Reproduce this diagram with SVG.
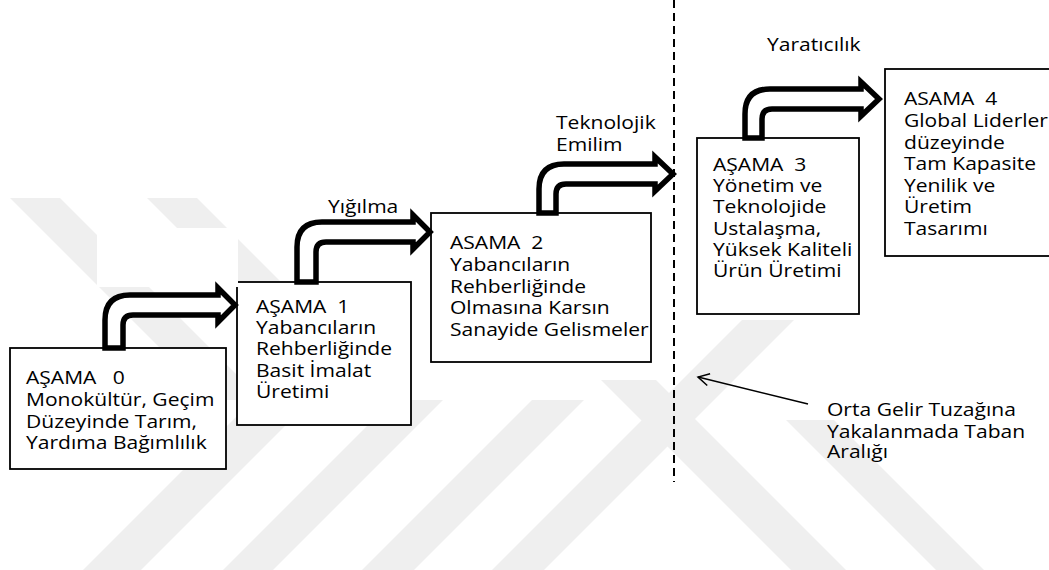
<svg xmlns="http://www.w3.org/2000/svg" width="1049" height="570" viewBox="0 0 1049 570">
<style>
.box{fill:#fff;stroke:#000;stroke-width:1.8}
.t{font-family:"Open Sans","Noto Sans",sans-serif;font-size:18px;fill:#000;white-space:pre}
.arr{fill:#fff;stroke:#000;stroke-width:5.5;stroke-linejoin:miter}
.wm{fill:#efefef}
.dash{stroke:#000;stroke-width:2;stroke-dasharray:8 5;fill:none}
.thin{stroke:#000;stroke-width:1.5;fill:none}
</style>
<defs>
<marker id="open" markerWidth="16" markerHeight="16" refX="13" refY="8" orient="auto" markerUnits="userSpaceOnUse">
<path d="M2 2 L13 8 L2 14" fill="none" stroke="#000" stroke-width="1.5"/>
</marker>
<clipPath id="c0"><rect x="97" y="228" width="141" height="59"/></clipPath>
</defs>
<rect width="1049" height="570" fill="#fff"/>
<g id="watermark">
<polygon class="wm" points="10,198 60,198 262,400 212,400"/>
<polygon class="wm" points="147,198 197,198 399,400 349,400"/>
<polygon class="wm" points="253,400 311,400 141,570 83,570"/>
<polygon class="wm" points="393,400 443,400 273,570 223,570"/>
<polygon class="wm" points="532,400 584,400 414,570 362,570"/>
<polygon class="wm" points="742,320 794,320 544,570 492,570"/>
<polygon class="wm" points="601,380 656,380 846,570 791,570"/>
<polygon class="wm" points="786,420 834,420 984,570 936,570"/>
</g>
<g id="divider"><line class="dash" x1="674" y1="0" x2="674" y2="482"/></g>
<g id="node0">
<rect class="box" x="10" y="348" width="216" height="121"/>
<text class="t" transform="translate(26 0) scale(1.17 1)"><tspan x="0" y="384">AŞAMA   0</tspan><tspan x="0" y="406">Monokültür, Geçim</tspan><tspan x="0" y="428">Düzeyinde Tarım,</tspan><tspan x="0" y="449">Yardıma Bağımlılık</tspan></text>
</g>
<g id="node1">
<rect class="box" x="237" y="282" width="174" height="143"/>
<text class="t" transform="translate(256 0) scale(1.17 1)"><tspan x="0" y="313">AŞAMA  1</tspan><tspan x="0" y="334">Yabancıların</tspan><tspan x="0" y="355">Rehberliğinde</tspan><tspan x="0" y="377">Basit İmalat</tspan><tspan x="0" y="398">Üretimi</tspan></text>
</g>
<g id="node2">
<rect class="box" x="431" y="213" width="220" height="149"/>
<text class="t" transform="translate(450 0) scale(1.17 1)"><tspan x="0" y="249">ASAMA  2</tspan><tspan x="0" y="271">Yabancıların</tspan><tspan x="0" y="293">Rehberliğinde</tspan><tspan x="0" y="314">Olmasına Karsın</tspan><tspan x="0" y="336">Sanayide Gelismeler</tspan></text>
</g>
<g id="node3">
<rect class="box" x="697" y="138" width="162" height="176"/>
<text class="t" transform="translate(713 0) scale(1.17 1)"><tspan x="0" y="171">AŞAMA  3</tspan><tspan x="0" y="192">Yönetim ve</tspan><tspan x="0" y="213">Teknolojide</tspan><tspan x="0" y="235">Ustalaşma,</tspan><tspan x="0" y="256">Yüksek Kaliteli</tspan><tspan x="0" y="277">Ürün Üretimi</tspan></text>
</g>
<g id="node4">
<rect class="box" x="885" y="69" width="180" height="187"/>
<text class="t" transform="translate(904 0) scale(1.17 1)"><tspan x="0" y="105">ASAMA  4</tspan><tspan x="0" y="127">Global Liderler</tspan><tspan x="0" y="149">düzeyinde</tspan><tspan x="0" y="170">Tam Kapasite</tspan><tspan x="0" y="192">Yenilik ve</tspan><tspan x="0" y="213">Üretim</tspan><tspan x="0" y="235">Tasarımı</tspan></text>
</g>
<g id="connectors">
<rect x="97" y="228" width="141" height="59" fill="#fff"/>
<path class="arr" d="M105 348 L105 320 Q105 295 130 295 L218 295 L218 288 L235 305 L218 322 L218 315 L133 315 Q123 315 123 325 L123 348 Z"/>
<path class="arr" d="M297 282 L297 247 Q297 222 322 222 L413 222 L413 215 L430 232 L413 249 L413 242 L326 242 Q316 242 316 252 L316 282 Z"/>
<path class="arr" d="M539 213 L539 189 Q539 164 564 164 L655 164 L655 157 L673 174 L655 191 L655 184 L566 184 Q556 184 556 194 L556 213 Z"/>
<path class="arr" d="M745 138 L745 114 Q745 89 770 89 L861 89 L861 82 L879 99 L861 116 L861 109 L772 109 Q762 109 762 119 L762 138 Z"/>
<line class="thin" x1="808" y1="404" x2="698" y2="377" marker-end="url(#open)"/>
</g>
<g id="labels">
<text class="t" clip-path="url(#c0)" transform="translate(110 0) scale(1.17 1)"><tspan x="0" y="266">İmalat DYY</tspan><tspan x="0" y="284">gelişi</tspan></text>
<text class="t" transform="translate(328 0) scale(1.17 1)"><tspan x="0" y="213">Yığılma</tspan></text>
<text class="t" transform="translate(556 0) scale(1.17 1)"><tspan x="0" y="129">Teknolojik</tspan><tspan x="0" y="151">Emilim</tspan></text>
<text class="t" transform="translate(767 0) scale(1.17 1)"><tspan x="0" y="51">Yaratıcılık</tspan></text>
<text class="t" transform="translate(827 0) scale(1.17 1)"><tspan x="0" y="416">Orta Gelir Tuzağına</tspan><tspan x="0" y="438">Yakalanmada Taban</tspan><tspan x="0" y="458">Aralığı</tspan></text>
</g>
</svg>
